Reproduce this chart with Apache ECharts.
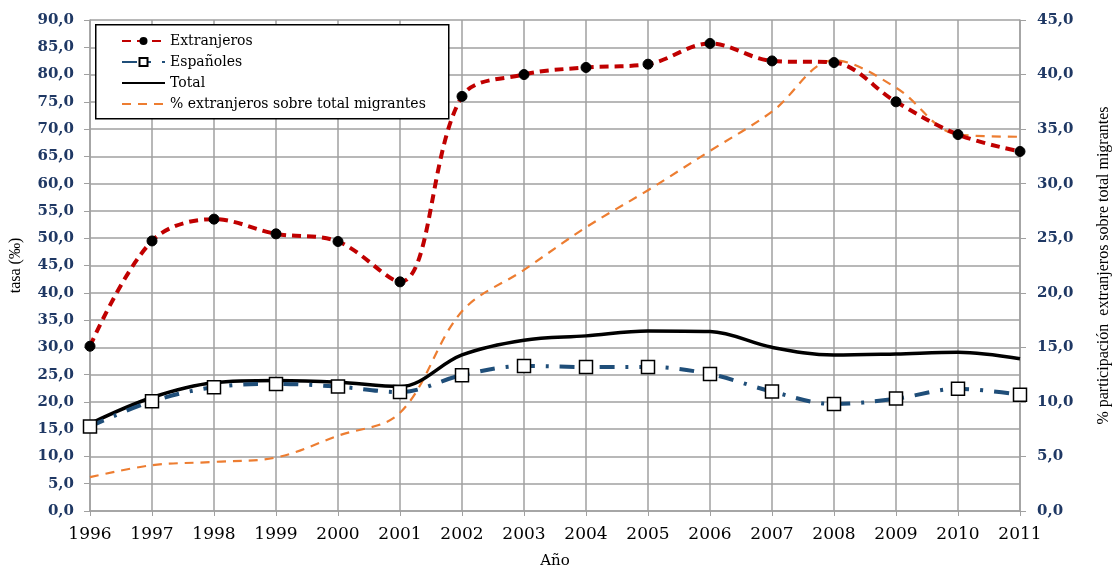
<!DOCTYPE html>
<html>
<head>
<meta charset="utf-8">
<script src="https://cdn.jsdelivr.net/npm/echarts@6/dist/echarts.min.js"></script>
<style>html,body{margin:0;padding:0;background:#fff}#c{width:1112px;height:572px}</style>
</head>
<body>
<div id="c"></div>
<script>
const years = ['1996','1997','1998','1999','2000','2001','2002','2003','2004','2005','2006','2007','2008','2009','2010','2011'];
const extranjeros = [30.2, 49.5, 53.5, 50.8, 49.4, 42.0, 76.0, 80.0, 81.3, 81.9, 85.7, 82.5, 82.2, 75.0, 69.0, 65.9];
const espanoles   = [15.5, 20.1, 22.7, 23.3, 22.8, 21.8, 24.9, 26.6, 26.4, 26.4, 25.1, 21.9, 19.6, 20.6, 22.4, 21.3];
const total       = [16.0, 20.8, 23.5, 23.9, 23.6, 22.8, 28.6, 31.3, 32.1, 33.0, 32.9, 30.0, 28.6, 28.8, 29.1, 27.9];
const pctExtr     = [3.1, 4.2, 4.5, 4.9, 6.9, 9.0, 18.3, 22.1, 26.0, 29.4, 33.0, 36.6, 41.3, 38.8, 34.5, 34.3];

const serif = '"Liberation Serif", "DejaVu Serif", serif';
const wide = '"DejaVu Serif", serif';
const fmt = v => v.toFixed(1).replace('.', ',');
const chart = echarts.init(document.getElementById('c'));
chart.setOption({
  animation: false,
  backgroundColor: '#fff',
  grid: { left: 90, right: 92, top: 20, bottom: 61, containLabel: false, outerBoundsMode: 'none' },
  graphic: [{
    type: 'rect', left: 95, top: 24, z: 10,
    shape: { width: 353, height: 94 },
    style: { fill: '#fff', stroke: '#000', lineWidth: 1.5 }
  }],
  legend: {
    orient: 'vertical', left: 116, top: 29, z: 20,
    itemWidth: 43, itemHeight: 10, itemGap: 7,
    textStyle: { fontFamily: wide, fontSize: 14, color: '#000' },
    data: [
      { name: 'Extranjeros' },
      { name: 'Españoles' },
      { name: 'Total', itemStyle: { opacity: 0 } },
      { name: '% extranjeros sobre total migrantes', itemStyle: { opacity: 0 } }
    ]
  },
  xAxis: {
    type: 'category', data: years, boundaryGap: false,
    name: 'Año', nameLocation: 'middle', nameGap: 43,
    nameTextStyle: { fontFamily: wide, fontSize: 15, color: '#000' },
    axisLine: { lineStyle: { color: '#a0a0a0', width: 1.5 } },
    axisTick: { show: true, length: 5, lineStyle: { color: '#a0a0a0' } },
    axisLabel: { fontFamily: wide, fontSize: 17, color: '#000', margin: 15 },
    splitLine: { show: true, lineStyle: { color: '#a0a0a0', width: 1.5 } }
  },
  yAxis: [{
    type: 'value', min: 0, max: 90, interval: 5,
    name: 'tasa (‰)', nameLocation: 'middle', nameGap: 66, nameRotate: 90,
    nameTextStyle: { fontFamily: serif, fontSize: 16, color: '#000' },
    axisLine: { show: true, lineStyle: { color: '#a0a0a0', width: 1.5 } },
    axisTick: { show: true, length: 6, lineStyle: { color: '#a0a0a0' } },
    axisLabel: { formatter: fmt, fontFamily: wide, fontSize: 15, fontWeight: 'bold', color: '#1f3864', margin: 16 },
    splitLine: { show: true, lineStyle: { color: '#a0a0a0', width: 1.5 } }
  }, {
    type: 'value', min: 0, max: 45, interval: 5, position: 'right',
    name: '% participación  extranjeros sobre total migrantes', nameLocation: 'middle', nameGap: 76, nameRotate: 90,
    nameTextStyle: { fontFamily: serif, fontSize: 16, color: '#000' },
    axisLine: { show: true, lineStyle: { color: '#a0a0a0', width: 1.5 } },
    axisTick: { show: true, length: 6, lineStyle: { color: '#a0a0a0' } },
    axisLabel: { formatter: fmt, fontFamily: wide, fontSize: 15, fontWeight: 'bold', color: '#1f3864', margin: 17 },
    splitLine: { show: false }
  }],
  series: [{
    name: 'Extranjeros', type: 'line', data: extranjeros, smooth: 0.35, yAxisIndex: 0,
    lineStyle: { color: '#c00000', width: 4, type: [9, 6] },
    itemStyle: { color: '#000', borderColor: '#000' },
    symbol: 'circle', symbolSize: 10, z: 5
  }, {
    name: 'Españoles', type: 'line', data: espanoles, smooth: 0.35, yAxisIndex: 0,
    lineStyle: { color: '#1f4e79', width: 4, type: [15, 11, 3, 11] },
    itemStyle: { color: '#fff', borderColor: '#000', borderWidth: 1.5 },
    symbol: 'rect', symbolSize: 13, z: 4
  }, {
    name: 'Total', type: 'line', data: total, smooth: 0.35, yAxisIndex: 0,
    lineStyle: { color: '#000', width: 3.5 },
    itemStyle: { color: '#000' },
    symbol: 'none', z: 3
  }, {
    name: '% extranjeros sobre total migrantes', type: 'line', data: pctExtr, smooth: 0.35, yAxisIndex: 1,
    lineStyle: { color: '#ed7d31', width: 2.2, type: [9, 7] },
    itemStyle: { color: '#ed7d31' },
    symbol: 'none', z: 2
  }]
});
</script>
</body>
</html>
